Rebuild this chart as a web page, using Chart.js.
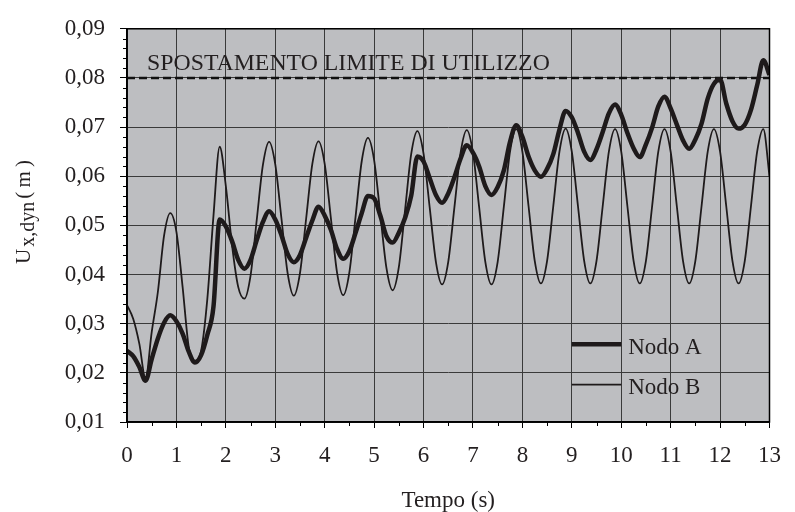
<!DOCTYPE html>
<html>
<head>
<meta charset="utf-8">
<script src="https://cdn.jsdelivr.net/npm/chart.js@4.4.1/dist/chart.umd.min.js"></script>
<style>
  html, body { margin: 0; padding: 0; background: #fff; }
</style>
</head>
<body>
<canvas id="chart" width="795" height="512"></canvas>
<script>
// time samples (s)
const times = [
  0, 0.125, 0.25, 0.375, 0.5, 0.625, 0.75, 0.875,
  1, 1.125, 1.25, 1.375, 1.5, 1.625, 1.75, 1.875,
  2, 2.125, 2.25, 2.375, 2.5, 2.625, 2.75, 2.875,
  3, 3.125, 3.25, 3.375, 3.5, 3.625, 3.75, 3.875,
  4, 4.125, 4.25, 4.375, 4.5, 4.625, 4.75, 4.875,
  5, 5.125, 5.25, 5.375, 5.5, 5.625, 5.75, 5.875,
  6, 6.125, 6.25, 6.375, 6.5, 6.625, 6.75, 6.875,
  7, 7.125, 7.25, 7.375, 7.5, 7.625, 7.75, 7.875,
  8, 8.125, 8.25, 8.375, 8.5, 8.625, 8.75, 8.875,
  9, 9.125, 9.25, 9.375, 9.5, 9.625, 9.75, 9.875,
  10, 10.125, 10.25, 10.375, 10.5, 10.625, 10.75, 10.875,
  11, 11.125, 11.25, 11.375, 11.5, 11.625, 11.75, 11.875,
  12, 12.125, 12.25, 12.375, 12.5, 12.625, 12.75, 12.875,
  13
];

// Nodo A (thick line), m
const nodoA = [
  0.0245, 0.0234, 0.0212, 0.0184, 0.0228, 0.0270, 0.0302, 0.0317,
  0.0305, 0.0280, 0.0243, 0.0221, 0.0236, 0.0277, 0.0335, 0.0512,
  0.0498, 0.0468, 0.0430, 0.0412, 0.0430, 0.0470, 0.0507, 0.0529,
  0.0512, 0.0480, 0.0442, 0.0425, 0.0440, 0.0475, 0.0510, 0.0538,
  0.0520, 0.0491, 0.0452, 0.0432, 0.0448, 0.0485, 0.0525, 0.0560,
  0.0555, 0.0520, 0.0478, 0.0465, 0.0485, 0.0515, 0.0560, 0.0640,
  0.0630, 0.0596, 0.0562, 0.0546, 0.0565, 0.0598, 0.0636, 0.0663,
  0.0648, 0.0620, 0.0580, 0.0562, 0.0578, 0.0612, 0.0670, 0.0704,
  0.0680, 0.0640, 0.0612, 0.0599, 0.0615, 0.0645, 0.0695, 0.0733,
  0.0720, 0.0688, 0.0650, 0.0633, 0.0655, 0.0690, 0.0728, 0.0746,
  0.0725, 0.0688, 0.0657, 0.0639, 0.0665, 0.0699, 0.0742, 0.0762,
  0.0738, 0.0705, 0.0673, 0.0656, 0.0675, 0.0707, 0.0758, 0.0788,
  0.0797, 0.0748, 0.0712, 0.0697, 0.0705, 0.0735, 0.0785, 0.0836,
  0.0806
];

// Nodo B (thin line), m
const nodoB = [
  0.0338, 0.0310, 0.0259, 0.0188, 0.0283, 0.0365, 0.0479, 0.0525,
  0.0487, 0.0375, 0.0252, 0.0225, 0.0245, 0.0350, 0.0520, 0.0660,
  0.0580, 0.0460, 0.0375, 0.0351, 0.0398, 0.0511, 0.0623, 0.0670,
  0.0624, 0.0514, 0.0403, 0.0357, 0.0403, 0.0514, 0.0625, 0.0671,
  0.0625, 0.0515, 0.0404, 0.0358, 0.0405, 0.0518, 0.0631, 0.0678,
  0.0633, 0.0523, 0.0413, 0.0368, 0.0415, 0.0530, 0.0645, 0.0692,
  0.0646, 0.0536, 0.0426, 0.0380, 0.0426, 0.0537, 0.0648, 0.0694,
  0.0648, 0.0537, 0.0426, 0.0380, 0.0426, 0.0538, 0.0650, 0.0696,
  0.0650, 0.0539, 0.0428, 0.0382, 0.0428, 0.0539, 0.0650, 0.0697,
  0.0650, 0.0539, 0.0428, 0.0382, 0.0428, 0.0539, 0.0650, 0.0696,
  0.0650, 0.0539, 0.0428, 0.0382, 0.0428, 0.0539, 0.0650, 0.0696,
  0.0650, 0.0539, 0.0428, 0.0382, 0.0428, 0.0539, 0.0650, 0.0696,
  0.0650, 0.0539, 0.0428, 0.0382, 0.0428, 0.0539, 0.0650, 0.0696,
  0.0600
];

const limitValue = 0.08;
const limitLabel = 'SPOSTAMENTO LIMITE DI UTILIZZO';
const seriesNames = ['Nodo A', 'Nodo B'];
const xTickLabels = ['0','1','2','3','4','5','6','7','8','9','10','11','12','13'];
const yTickLabels = ['0,01','0,02','0,03','0,04','0,05','0,06','0,07','0,08','0,09'];

const FONT = '"Liberation Serif", "Times New Roman", serif';
const INK = '#231f20';
const LINE = '#1e1a1b';

function toPoints(vals) {
  return times.map((t, i) => ({ x: t, y: vals[i] }));
}

// background, minor ticks, frame, labels, legend
const decor = {
  id: 'decor',
  beforeDraw(chart) {
    const { ctx, chartArea: a } = chart;
    ctx.save();
    ctx.fillStyle = '#bdbec1';
    ctx.fillRect(a.left, a.top, a.right - a.left, a.bottom - a.top);
    ctx.restore();
  },
  afterDraw(chart) {
    const { ctx, chartArea: a, scales } = chart;
    const xs = scales.x, ys = scales.y;
    ctx.save();

    // minor ticks
    ctx.strokeStyle = '#000';
    ctx.lineWidth = 1;
    ctx.beginPath();
    for (let k = 0; k <= 40; k++) {
      if (k % 5 === 0) continue;
      const py = Math.round(ys.getPixelForValue(0.01 + k * 0.002)) + 0.5;
      ctx.moveTo(a.left - 4, py); ctx.lineTo(a.left, py);
    }
    for (let k = 0; k < 13; k++) {
      const px = Math.round(xs.getPixelForValue(k + 0.5)) + 0.5;
      ctx.moveTo(px, a.bottom); ctx.lineTo(px, a.bottom + 4);
    }
    ctx.stroke();

    // frame
    ctx.lineWidth = 1.5;
    ctx.strokeRect(a.left, a.top, a.right - a.left, a.bottom - a.top);

    // limit label
    ctx.fillStyle = INK;
    ctx.font = '23.8px ' + FONT;
    ctx.textBaseline = 'alphabetic';
    ctx.textAlign = 'left';
    ctx.fillText(limitLabel, xs.getPixelForValue(0) + 20, ys.getPixelForValue(limitValue) - 8);

    // legend
    const legendRows = [
      { name: seriesNames[0], width: 4.5, at: 0.0258, dy: 10 },
      { name: seriesNames[1], width: 1.8, at: 0.0176, dy: 9 }
    ];
    ctx.font = '23px ' + FONT;
    legendRows.forEach(r => {
      const py = ys.getPixelForValue(r.at);
      const x0 = xs.getPixelForValue(9), x1 = xs.getPixelForValue(10);
      ctx.strokeStyle = LINE;
      ctx.lineWidth = r.width;
      ctx.beginPath();
      ctx.moveTo(x0, py); ctx.lineTo(x1, py);
      ctx.stroke();
      ctx.fillText(r.name, x1 + 7, py + r.dy);
    });

    // y axis title with subscript
    const parts = [
      { t: 'U', size: 21, dy: 0, gap: 2 },
      { t: 'x,dyn', size: 20, dy: 4, gap: 3 },
      { t: '(\u2009m\u2009)', size: 21, dy: 0, gap: 0 }
    ];
    let total = 0;
    parts.forEach(p => {
      ctx.font = p.size + 'px ' + FONT;
      p.w = ctx.measureText(p.t).width;
      total += p.w + p.gap;
    });
    ctx.translate(30, 212);
    ctx.rotate(-Math.PI / 2);
    let cx = -total / 2;
    parts.forEach(p => {
      ctx.font = p.size + 'px ' + FONT;
      ctx.fillText(p.t, cx, p.dy);
      cx += p.w + p.gap;
    });

    ctx.restore();
  }
};

new Chart(document.getElementById('chart'), {
  type: 'line',
  data: {
    datasets: [
      {
        label: seriesNames[0],
        data: toPoints(nodoA),
        borderColor: LINE,
        borderWidth: 4.5,
        pointRadius: 0,
        cubicInterpolationMode: 'monotone',
        fill: false
      },
      {
        label: seriesNames[1],
        data: toPoints(nodoB),
        borderColor: LINE,
        borderWidth: 1.8,
        pointRadius: 0,
        cubicInterpolationMode: 'monotone',
        fill: false
      },
      {
        label: 'limite',
        data: [{ x: times[0], y: limitValue }, { x: times[times.length - 1], y: limitValue }],
        borderColor: '#111',
        borderWidth: 2.5,
        borderDash: [8, 4],
        pointRadius: 0,
        fill: false
      }
    ]
  },
  options: {
    responsive: false,
    animation: false,
    layout: { padding: { top: 23, right: 12, left: 0, bottom: 0 } },
    plugins: {
      legend: { display: false },
      tooltip: { enabled: false }
    },
    scales: {
      x: {
        type: 'linear',
        min: 0,
        max: 13,
        afterFit(s) { s.height = 90; },
        border: { display: true, color: '#000', width: 1.5 },
        grid: { color: '#3a3a3a', lineWidth: 1, tickLength: 6, tickColor: '#000' },
        ticks: {
          stepSize: 1,
          padding: 14,
          autoSkip: false,
          maxRotation: 0,
          color: INK,
          font: { family: FONT, size: 23 },
          callback: (v, i) => xTickLabels[i]
        },
        title: {
          display: true,
          text: 'Tempo (s)',
          color: INK,
          font: { family: FONT, size: 23, lineHeight: 1 },
          padding: { top: 0, bottom: 0 }
        }
      },
      y: {
        min: 0.01,
        max: 0.09,
        afterFit(s) { s.width = 127; },
        border: { display: true, color: '#000', width: 1.5 },
        grid: { color: '#3a3a3a', lineWidth: 1, tickLength: 7, tickColor: '#000' },
        ticks: {
          stepSize: 0.01,
          padding: 15,
          color: INK,
          font: { family: FONT, size: 23 },
          callback: (v, i) => yTickLabels[i]
        }
      }
    }
  },
  plugins: [decor]
});
</script>
</body>
</html>
